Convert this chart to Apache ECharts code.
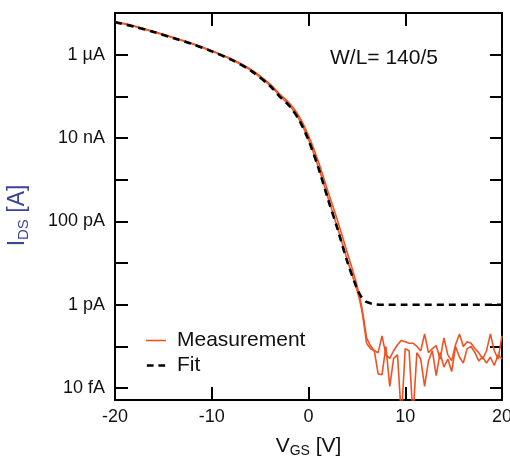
<!DOCTYPE html>
<html>
<head>
<meta charset="utf-8">
<script src="https://cdn.jsdelivr.net/npm/echarts@6/dist/echarts.min.js"></script>
<style>
  html, body { margin: 0; padding: 0; background: #fff; }
  #chart { width: 510px; height: 458px; }
</style>
</head>
<body>
<div id="chart"></div>
<script>
// 数据: V_GS [V] / I_DS [A]
var vgsOn = [-20, -18, -16, -14, -12, -10, -8, -6, -4, -3, -2, -1, 0, 1, 2, 3, 4, 5, 5.5, 6];
var sweep1On = [6.1e-6, 4.8e-6, 3.5e-6, 2.55e-6, 1.8e-6, 1.22e-6, 7.7e-7, 4.3e-7, 1.85e-7, 1.05e-7,
  6.2e-8, 2.9e-8, 9.3e-9, 2.1e-9, 3.8e-10, 7.0e-11, 1.2e-11, 2.3e-12, 7.6e-13, 1.2e-13];
var sweep2On = [6.2e-6, 4.85e-6, 3.6e-6, 2.6e-6, 1.85e-6, 1.25e-6, 8.0e-7, 4.5e-7, 2.0e-7, 1.15e-7,
  7.0e-8, 3.4e-8, 1.15e-8, 2.8e-9, 5.3e-10, 1.05e-10, 1.8e-11, 3.0e-12, 9.0e-13, 1.6e-13];

// 关态噪声部分
var vgsOff = [6, 6.4, 6.8, 7.2, 7.6, 8, 8.4, 8.8, 9.2, 9.6, 10, 10.4, 10.8, 11.2, 11.6, 12, 12.4, 12.8,
  13.2, 13.6, 14, 14.4, 14.8, 15.2, 15.6, 16, 16.4, 16.8, 17.2, 17.6, 18, 18.4, 18.8, 19.2, 19.6, 20];
var sweep1Off = [1.2e-13, 8.9e-14, 7.9e-14, 7.1e-14, 1.8e-13, 6.3e-14, 5.2e-14, 7.9e-14, 1.1e-13, 1.4e-13,
  1.3e-13, 1.2e-13, 1.2e-13, 1.0e-13, 7.9e-14, 2.0e-13, 7.1e-14, 8.9e-14, 1.05e-13, 5.0e-14,
  1.6e-13, 6.3e-14, 4.5e-14, 1.1e-13, 2.0e-13, 1.0e-13, 1.3e-13, 1.2e-13, 8.9e-14, 7.1e-14,
  5.0e-14, 7.9e-14, 2.0e-13, 7.9e-14, 5.0e-14, 1.8e-13];
var sweep2Off = [1.6e-13, 1.05e-13, 7.9e-14, 2.2e-14, 2.1e-14, 1.0e-13, 1.1e-14, 5.2e-14, 6.3e-14, 2e-15,
  8.9e-14, 7.9e-14, 2e-15, 7.1e-14, 5.0e-14, 1.1e-14, 4.5e-14, 7.9e-14, 2.0e-14, 7.1e-14,
  3.2e-14, 5.0e-14, 2.5e-14, 1.0e-13, 5.6e-14, 4.0e-14, 8.9e-14, 1.0e-13, 7.1e-14, 4.5e-14,
  5.6e-14, 4.0e-14, 5.6e-14, 3.5e-14, 6.3e-14, 5.0e-14];

// 拟合
var vgsFit = [-20, -18, -16, -14, -12, -10, -8, -6, -4, -3, -2, -1, 0, 1, 2, 3, 4, 5, 5.5, 6, 7, 8, 20];
var idsFit = [6.0e-6, 4.7e-6, 3.5e-6, 2.5e-6, 1.8e-6, 1.2e-6, 7.6e-7, 4.2e-7, 1.8e-7, 1.0e-7,
  6.0e-8, 2.8e-8, 8.9e-9, 2.0e-9, 3.5e-10, 6.6e-11, 1.1e-11, 2.5e-12, 1.5e-12, 1.17e-12,
  1.02e-12, 1.0e-12, 1.0e-12];

// 坐标轴
var yMin = 5.2e-15;
var yMax = 1e-5;
var yDecades = [1e-14, 1e-13, 1e-12, 1e-11, 1e-10, 1e-9, 1e-8, 1e-7, 1e-6];
var yTickValues = [1e-14, 1e-12, 1e-10, 1e-8, 1e-6];
var yTickLabels = ['10 fA', '1 pA', '100 pA', '10 nA', '1 µA'];

(function() {
  var myChart = echarts.init(document.getElementById('chart'));

  var FONT = 'Liberation Sans, Arial, sans-serif';
  var ORANGE = '#ef5325';
  var BLUE = '#3a44a0';

  function zip(xs, ys) {
    return xs.map(function (x, i) { return [x, ys[i]]; });
  }

  function measLine(data, smooth) {
    return {
      name: 'Measurement',
      type: 'line',
      data: data,
      symbol: 'none',
      smooth: smooth,
      lineStyle: { color: ORANGE, width: 1.6 },
      itemStyle: { color: ORANGE },
      z: 2
    };
  }

  var frame = { color: '#000', width: 2 };

  var option = {
    animation: false,
    textStyle: { fontFamily: FONT },
    grid: { left: 115, right: 8, top: 13, bottom: 58, outerBoundsMode: 'none' },
    legend: {
      orient: 'vertical',
      left: 146,
      top: 330,
      padding: 0,
      itemWidth: 20,
      itemHeight: 2.5,
      itemGap: 4,
      data: [
        { name: 'Measurement', icon: 'path://M0,0H20V1.6H0Z' },
        { name: 'Fit', icon: 'path://M0,0H7V2.6H0Z M12,0H19V2.6H12Z' }
      ],
      textStyle: { fontSize: 21, lineHeight: 20, color: '#111', fontFamily: FONT, padding: [0, 0, 0, 6] }
    },
    graphic: [{
      type: 'text',
      x: 330,
      y: 58,
      style: { text: 'W/L= 140/5', fontSize: 21, fontFamily: FONT, fill: '#111', verticalAlign: 'middle' }
    }],
    xAxis: [
      {
        type: 'value',
        position: 'bottom',
        min: -20,
        max: 20,
        interval: 10,
        name: '{m|V}{s|GS}{m| [V]}',
        nameLocation: 'middle',
        nameGap: 34,
        nameTextStyle: {
          rich: {
            m: { fontSize: 21, color: '#111', fontFamily: FONT, lineHeight: 24, verticalAlign: 'middle' },
            s: { fontSize: 14, color: '#111', fontFamily: FONT, lineHeight: 14, verticalAlign: 'bottom' }
          }
        },
        axisLine: { onZero: false, lineStyle: frame },
        axisTick: { inside: true, length: 13, lineStyle: frame },
        axisLabel: { margin: 8, fontSize: 18, color: '#111', showMinLabel: true, showMaxLabel: true },
        splitLine: { show: false }
      },
      {
        type: 'value',
        position: 'top',
        min: -20,
        max: 20,
        interval: 10,
        axisLine: { onZero: false, lineStyle: frame },
        axisTick: { inside: true, length: 13, lineStyle: frame },
        axisLabel: { show: false },
        splitLine: { show: false }
      }
    ],
    yAxis: [
      {
        type: 'log',
        position: 'left',
        min: yMin,
        max: yMax,
        name: '{m|I}{s|DS}{m| [A]}',
        nameLocation: 'middle',
        nameRotate: 90,
        nameGap: 84,
        nameTextStyle: {
          padding: [0, 18, 0, 0],
          rich: {
            m: { fontSize: 23, color: BLUE, fontFamily: FONT, lineHeight: 26, verticalAlign: 'middle' },
            s: { fontSize: 15, color: BLUE, fontFamily: FONT, lineHeight: 15, verticalAlign: 'bottom' }
          }
        },
        axisLine: { onZero: false, lineStyle: frame },
        axisTick: { inside: true, length: 13, lineStyle: frame, customValues: yDecades },
        axisLabel: {
          margin: 10,
          fontSize: 18,
          color: '#111',
          customValues: yTickValues,
          formatter: function (v) {
            for (var i = 0; i < yTickValues.length; i++) {
              if (Math.abs(Math.log10(v) - Math.log10(yTickValues[i])) < 0.01) return yTickLabels[i];
            }
            return '';
          }
        },
        splitLine: { show: false },
        minorTick: { show: false }
      },
      {
        type: 'log',
        position: 'right',
        min: yMin,
        max: yMax,
        axisLine: { onZero: false, lineStyle: frame },
        axisTick: { inside: true, length: 12, lineStyle: frame, customValues: yDecades },
        axisLabel: { show: false },
        splitLine: { show: false }
      }
    ],
    series: [
      measLine(zip(vgsOn, sweep1On), 0.3),
      measLine(zip(vgsOn, sweep2On), 0.3),
      measLine(zip(vgsOff, sweep1Off), false),
      measLine(zip(vgsOff, sweep2Off), false),
      {
        name: 'Fit',
        type: 'line',
        data: zip(vgsFit, idsFit),
        symbol: 'none',
        smooth: 0.3,
        lineStyle: { color: '#000', width: 2.6, type: [7, 5] },
        itemStyle: { color: '#000' },
        z: 3
      }
    ]
  };

  myChart.setOption(option);
})();
</script>
</body>
</html>
